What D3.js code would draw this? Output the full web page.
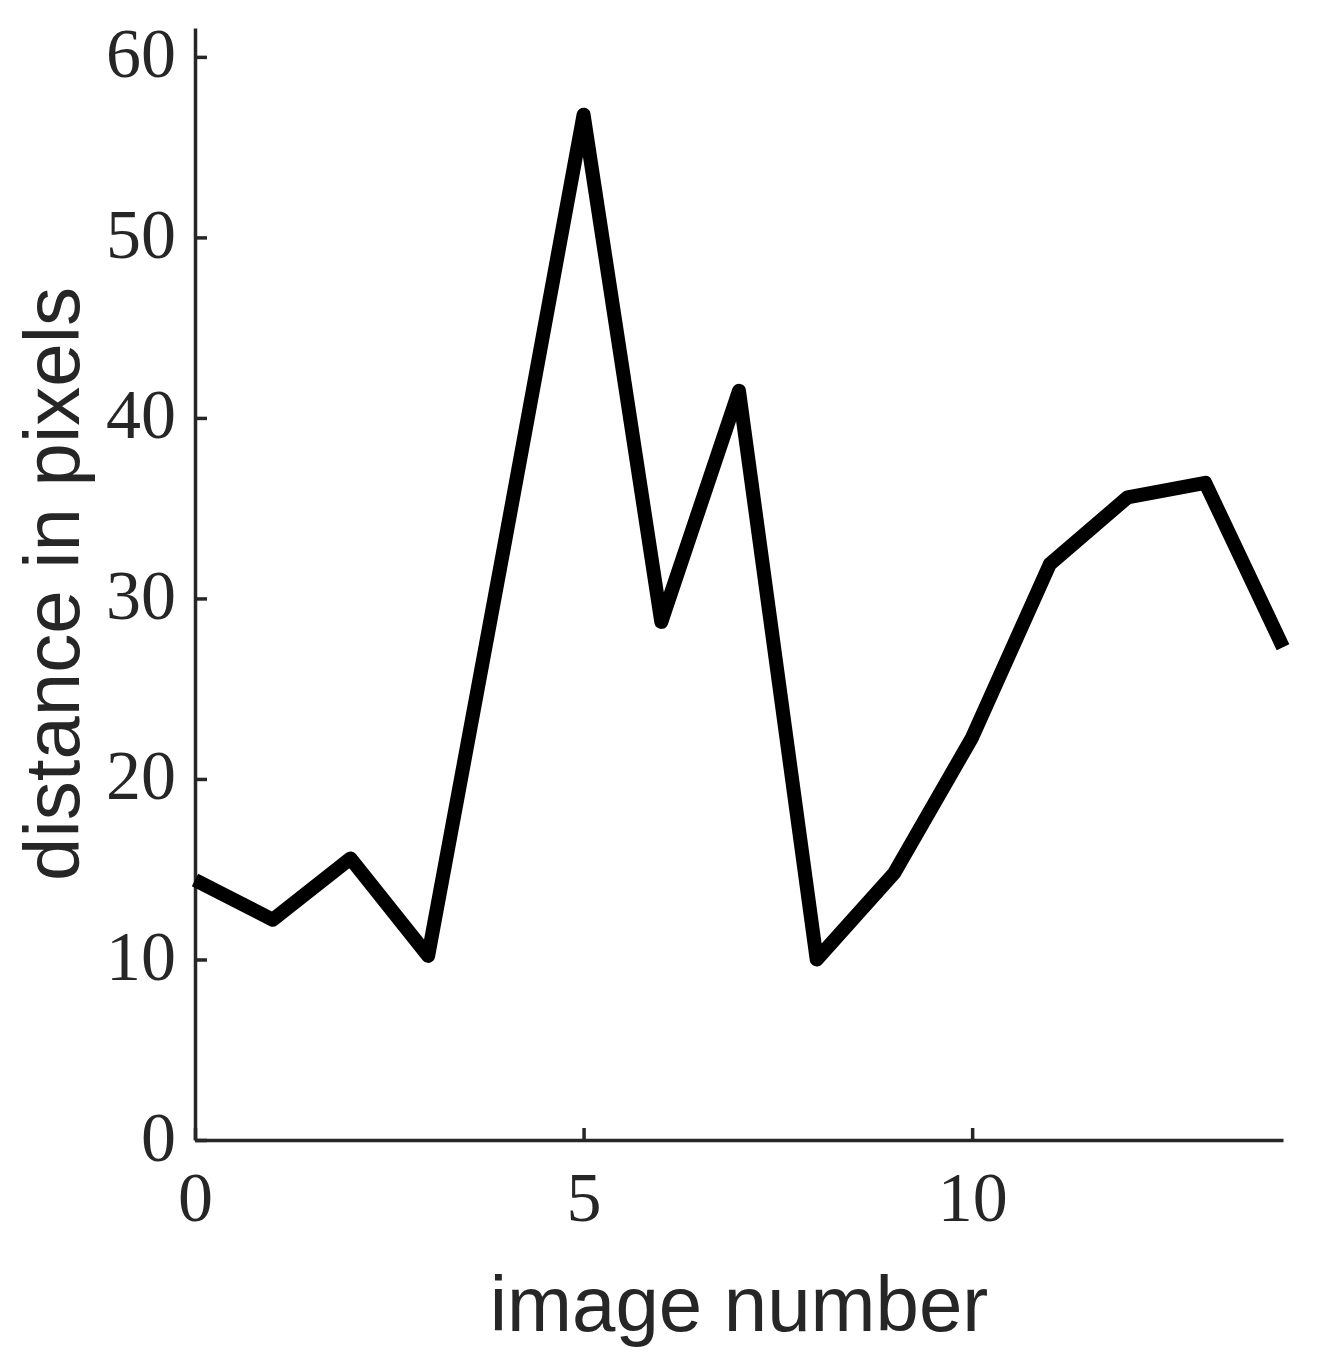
<!DOCTYPE html>
<html>
<head>
<meta charset="utf-8">
<script src="https://cdn.jsdelivr.net/npm/d3@7"></script>
<style>
  body { margin: 0; background: #fff; }
  svg { display: block; }
</style>
</head>
<body>
<div id="vis"></div>
<script>
// data
var imageNumber = [0, 1, 2, 3, 4, 5, 6, 7, 8, 9, 10, 11, 12, 13, 14];
var distance    = [14.4, 12.2, 15.6, 10.2, 33.4, 56.8, 28.7, 41.5, 10.0, 14.8, 22.3, 31.9, 35.6, 36.4, 27.3];
var xTicks = [0, 5, 10];
var yTicks = [0, 10, 20, 30, 40, 50, 60];

var width = 1322, height = 1359;
var axisColor = "#262626";

var svg = d3.select("#vis")
  .append("svg")
  .attr("width", width)
  .attr("height", height);

var x = d3.scaleLinear().domain([0, 14]).range([195, 1283]);
var y = d3.scaleLinear().domain([0, 61.6]).range([1140, 28]);

////////// axes //////////

var yAxis = svg.append("g")
  .attr("transform", "translate(" + x(0) + ",0)")
  .call(d3.axisLeft(y).tickValues(yTicks).tickSizeInner(-12).tickSizeOuter(0).tickPadding(19));

var xAxis = svg.append("g")
  .attr("transform", "translate(0," + y(0) + ")")
  .call(d3.axisBottom(x).tickValues(xTicks).tickSizeInner(-12).tickSizeOuter(0));

[xAxis, yAxis].forEach(function (g) {
  g.select(".domain").attr("stroke", axisColor).attr("stroke-width", 3.5);
  g.selectAll(".tick line").attr("stroke", axisColor).attr("stroke-width", 3.5);
  g.selectAll(".tick text")
    .attr("fill", axisColor)
    .style("font-family", "'Liberation Serif', 'DejaVu Serif', serif")
    .style("font-size", "70px");
});

yAxis.selectAll(".tick text").attr("dy", null).attr("y", 20);
xAxis.selectAll(".tick text").attr("dy", null).attr("y", 81);

////////// line //////////

var line = d3.line()
  .x(function (d, i) { return x(imageNumber[i]); })
  .y(function (d) { return y(d); });

svg.append("path")
  .datum(distance)
  .attr("d", line)
  .attr("fill", "none")
  .attr("stroke", "#000")
  .attr("stroke-width", 14)
  .attr("stroke-linejoin", "round")
  .attr("stroke-linecap", "butt");

////////// labels //////////

svg.append("text")
  .attr("x", (x(0) + x(14)) / 2)
  .attr("y", 1331)
  .attr("text-anchor", "middle")
  .attr("fill", axisColor)
  .style("font-family", "'Liberation Sans', Arial, sans-serif")
  .style("font-size", "78px")
  .text("image number");

svg.append("text")
  .attr("transform", "translate(79," + (y(0) + y(61.6)) / 2 + ") rotate(-90)")
  .attr("text-anchor", "middle")
  .attr("fill", axisColor)
  .style("font-family", "'Liberation Sans', Arial, sans-serif")
  .style("font-size", "78px")
  .text("distance in pixels");
</script>
</body>
</html>
